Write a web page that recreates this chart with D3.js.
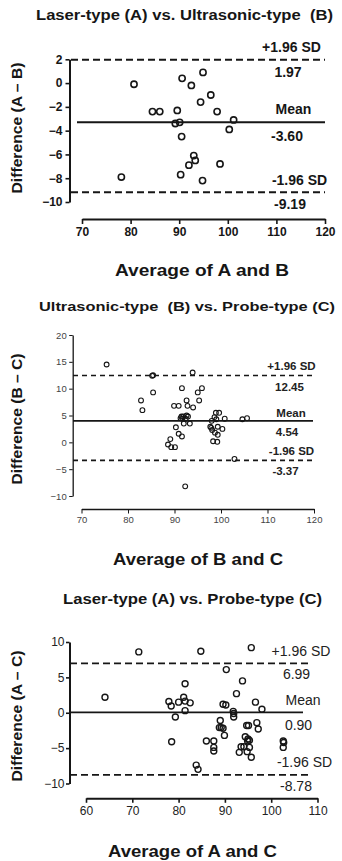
<!DOCTYPE html>
<html>
<head>
<meta charset="utf-8">
<script src="https://cdn.jsdelivr.net/npm/d3@7"></script>
<style>
    body { margin: 0; background: #fff; }
    svg { display: block; font-family: "Liberation Sans", Arial, sans-serif; }
</style>
</head>
<body>
<svg id="chart" width="342" height="861"></svg>
<script>
(function () {
    'use strict';

    // panel 1 -- Laser-type (A) vs. Ultrasonic-type (B)
    var avgAB = [80.7, 78.1, 84.5, 86.0, 89.6, 89.2, 90.1, 90.6, 92.5, 94.9, 96.5,
        94.4, 97.8, 101.2, 100.3, 90.5, 93.0, 93.3, 92.0, 90.3, 94.8, 98.4];
    var diffAB = [-0.1, -7.9, -2.4, -2.4, -2.3, -3.4, -3.3, 0.4, -0.2, 0.9, -1.0,
        -1.6, -2.4, -3.1, -3.9, -4.5, -6.1, -6.5, -6.9, -7.7, -8.2, -6.8];
    var linesAB = [1.97, -3.3, -9.19];          // upper, mean, lower (as drawn)
    var textAB = ['1.97', '-3.60', '-9.19'];
    var xTicksAB = [70, 80, 90, 100, 110, 120];
    var yTicksAB = [-10, -8, -6, -4, -2, 0, 2];

    // panel 2 -- Ultrasonic-type (B) vs. Probe-type (C)
    var avgBC = [75.4, 85.2, 85.4, 85.4, 82.8, 83.1, 93.9, 91.6, 95.9, 95.0, 92.6,
        95.3, 89.9, 90.9, 92.8, 94.0, 91.5, 91.9, 92.9, 91.7, 92.4, 91.3, 92.6,
        92.0, 93.3, 90.3, 90.9, 91.6, 89.1, 88.6, 89.3, 90.1, 92.3, 102.9, 104.6,
        105.6, 98.9, 99.6, 98.6, 99.0, 100.8, 98.0, 97.7, 99.3, 100.3, 98.1, 98.7,
        99.3, 98.3, 99.2, 97.9];
    var diffBC = [14.5, 12.4, 12.5, 9.3, 7.8, 6.0, 13.0, 10.1, 10.1, 9.3, 7.8,
        7.8, 6.8, 6.8, 6.8, 6.5, 4.8, 4.8, 4.8, 4.4, 4.4, 4.5, 5.0,
        3.5, 3.5, 2.8, 1.6, 1.1, 0.6, -0.4, -0.9, -0.9, -8.2, -3.1, 4.3,
        4.5, 5.5, 5.5, 4.7, 4.3, 4.4, 4.0, 2.9, 2.9, 2.5, 2.3, 1.8,
        1.4, 0.2, 0.1, 2.7];
    var linesBC = [12.45, 4.0, -3.37];
    var textBC = ['12.45', '4.54', '-3.37'];
    var xTicksBC = [70, 80, 90, 100, 110, 120];
    var yTicksBC = [-10, -5, 0, 5, 10, 15, 20];

    // panel 3 -- Laser-type (A) vs. Probe-type (C)
    var avgAC = [64.1, 71.4, 84.8, 95.7, 90.3, 93.8, 81.4, 92.5, 77.9, 78.4, 80.0,
        81.1, 81.4, 82.5, 81.4, 79.3, 89.6, 90.2, 91.8, 91.9, 91.9, 89.0, 88.8,
        89.2, 89.6, 89.9, 86.0, 87.6, 87.6, 87.6, 78.5, 83.8, 84.2, 96.6, 98.0,
        96.9, 97.2, 94.7, 95.1, 94.4, 95.0, 95.3, 94.9, 93.5, 94.1, 95.3, 93.1,
        94.8, 95.7, 102.6, 102.7, 102.6];
    var diffAC = [2.2, 8.6, 8.7, 9.2, 6.1, 4.5, 4.1, 2.7, 1.6, 0.95, 1.5,
        2.2, 1.65, 1.4, 0.3, -0.6, 1.2, 1.1, 0.2, -0.1, -0.6, -1.1, -2.1,
        -2.1, -2.2, -3.2, -4.0, -4.0, -4.9, -5.4, -4.1, -7.4, -8.0, 1.5, 0.5,
        -1.4, -2.3, -1.8, -1.8, -3.4, -3.7, -3.9, -4.0, -4.8, -4.8, -4.9, -5.6,
        -5.5, -6.3, -4.0, -4.2, -4.9];
    var linesAC = [6.99, 0.05, -8.78];
    var textAC = ['6.99', '0.90', '-8.78'];
    var xTicksAC = [60, 70, 80, 90, 100, 110];
    var yTicksAC = [-10, -5, 0, 5, 10];

    var ink = '#161616';
    var svg = d3.select('#chart');

    // panel layout and style settings
    var panels = [
        {
            title: 'Laser-type (A) vs. Ultrasonic-type\u00a0\u00a0(B)',
            titleX: 184.5, titleY: 15, titleSize: 14, titleW: 297,
            yLabel: 'Difference (A \u2013 B)', yLabelY: 128,
            xLabel: 'Average of A and B', xLabelX: 202, xLabelY: 270, xLabelW: 174,
            avg: avgAB, diff: diffAB, lines: linesAB, text: textAB,
            xTicks: xTicksAB, yTicks: yTicksAB,
            xDom: [70, 120], xRange: [82, 325], xAxisY: 219,
            yDom: [-10, 2], yRange: [202, 59.3], yAxisX: 69.5,
            lineX: [71, 325], meanX: [77, 325],
            tickFont: 'bold 12px', tickFill: ink, tickSize: 4, yPad: 3, xPad: 3,
            axisW: 2, lineW: 2, dash: '7,4', r: 3.1, dotW: 1.6,
            annFont: 'bold 14px', annFill: ink,
            ann: [
                { t: '+1.96 SD', line: 0, dy: -12.5, x: 291.5 },
                { t: 0, line: 0, dy: 12, x: 288 },
                { t: 'Mean', line: 1, dy: -13, x: 293.5 },
                { t: 1, line: 1, dy: 14, x: 287 },
                { t: '-1.96 SD', line: 2, dy: -12.5, x: 299.5 },
                { t: 2, line: 2, dy: 12, x: 290 },
            ],
        },
        {
            title: 'Ultrasonic-type\u00a0\u00a0(B) vs. Probe-type (C)',
            titleX: 187, titleY: 306.7, titleSize: 13.5, titleW: 296,
            yLabel: 'Difference (B \u2013 C)', yLabelY: 419,
            xLabel: 'Average of B and C', xLabelX: 198, xLabelY: 559, xLabelW: 170,
            avg: avgBC, diff: diffBC, lines: linesBC, text: textBC,
            xTicks: xTicksBC, yTicks: yTicksBC,
            xDom: [70, 120], xRange: [81.5, 314], xAxisY: 509,
            yDom: [-10, 20], yRange: [496, 335], yAxisX: 72.7,
            lineX: [73, 313], meanX: [73, 313],
            tickFont: '9.5px', tickFill: '#444', tickSize: 3.5, yPad: 2.5, xPad: 3,
            axisW: 1.3, lineW: 1.6, dash: '5,4', r: 2.4, dotW: 1.1,
            annFont: 'bold 11.5px', annFill: '#222',
            ann: [
                { t: '+1.96 SD', line: 0, dy: -10, x: 291.5 },
                { t: 0, line: 0, dy: 11, x: 289.5 },
                { t: 'Mean', line: 1, dy: -8, x: 291 },
                { t: 1, line: 1, dy: 11, x: 287 },
                { t: '-1.96 SD', line: 2, dy: -9, x: 291.5 },
                { t: 2, line: 2, dy: 11, x: 285.5 },
            ],
        },
        {
            title: 'Laser-type (A) vs. Probe-type (C)',
            titleX: 192.5, titleY: 599, titleSize: 14, titleW: 259,
            yLabel: 'Difference (A \u2013 C)', yLabelY: 716,
            xLabel: 'Average of A and C', xLabelX: 192.5, xLabelY: 851.7, xLabelW: 169,
            avg: avgAC, diff: diffAC, lines: linesAC, text: textAC,
            xTicks: xTicksAC, yTicks: yTicksAC,
            xDom: [60, 110], xRange: [86, 317.5], xAxisY: 798.3,
            yDom: [-10, 10], yRange: [783.5, 642], yAxisX: 69.5,
            lineX: [70, 312], meanX: [70, 303],
            tickFont: '12px', tickFill: '#222', tickSize: 3.5, yPad: 1.5, xPad: 4,
            axisW: 2, lineW: 1.8, dash: '7,4', r: 3, dotW: 1.4,
            annFont: '14px', annFill: '#222',
            ann: [
                { t: '+1.96 SD', line: 0, dy: -12, x: 301 },
                { t: 0, line: 0, dy: 10.5, x: 296.5 },
                { t: 'Mean', line: 1, dy: -12, x: 303 },
                { t: 1, line: 1, dy: 13, x: 298.5 },
                { t: '-1.96 SD', line: 2, dy: -13, x: 304.5 },
                { t: 2, line: 2, dy: 11.5, x: 296 },
            ],
        },
    ];

    function styleAxis(g, p) {
        g.select('.domain').attr('stroke', ink).attr('stroke-width', p.axisW);
        g.selectAll('.tick line').attr('stroke', ink).attr('stroke-width', p.axisW * 0.8);
        g.selectAll('.tick text')
            .attr('fill', p.tickFill)
            .style('font', p.tickFont + ' "Liberation Sans", Arial, sans-serif');
    }

    function drawPanel(p) {
        var x = d3.scaleLinear().domain(p.xDom).range(p.xRange),
            y = d3.scaleLinear().domain(p.yDom).range(p.yRange),
            g = svg.append('g');

        // title (original text is rendered wider than Arial, so stretch to fit)
        g.append('text')
            .attr('x', p.titleX).attr('y', p.titleY)
            .attr('text-anchor', 'middle').attr('dominant-baseline', 'central')
            .attr('font-weight', 'bold').attr('font-size', p.titleSize)
            .attr('textLength', p.titleW).attr('lengthAdjust', 'spacingAndGlyphs')
            .attr('fill', ink)
            .text(p.title);

        // axes, offset like the original
        var ya = g.append('g')
            .attr('transform', 'translate(' + p.yAxisX + ',0)')
            .call(d3.axisLeft(y).tickValues(p.yTicks).tickFormat(d3.format('d'))
                .tickSizeOuter(0).tickSizeInner(p.tickSize).tickPadding(p.yPad));
        styleAxis(ya, p);

        var xa = g.append('g')
            .attr('transform', 'translate(0,' + p.xAxisY + ')')
            .call(d3.axisBottom(x).tickValues(p.xTicks).tickFormat(d3.format('d'))
                .tickSizeOuter(0).tickSizeInner(p.tickSize + 1).tickPadding(p.xPad));
        styleAxis(xa, p);

        // limits of agreement + mean
        p.lines.forEach(function (v, i) {
            var span = i === 1 ? p.meanX : p.lineX;
            g.append('line')
                .attr('x1', span[0]).attr('x2', span[1])
                .attr('y1', y(v)).attr('y2', y(v))
                .attr('stroke', ink).attr('stroke-width', p.lineW)
                .attr('stroke-dasharray', i === 1 ? null : p.dash);
        });

        // points
        g.append('g').selectAll('circle')
            .data(p.avg.map(function (a, i) { return [a, p.diff[i]]; }))
            .join('circle')
            .attr('cx', function (d) { return x(d[0]); })
            .attr('cy', function (d) { return y(d[1]); })
            .attr('r', p.r)
            .attr('fill', 'none')
            .attr('stroke', ink).attr('stroke-width', p.dotW);

        // annotations
        p.ann.forEach(function (a) {
            g.append('text')
                .attr('x', a.x).attr('y', y(p.lines[a.line]) + a.dy)
                .attr('text-anchor', 'middle').attr('dominant-baseline', 'central')
                .attr('fill', p.annFill)
                .style('font', p.annFont + ' "Liberation Sans", Arial, sans-serif')
                .text(typeof a.t === 'number' ? p.text[a.t] : a.t);
        });

        // axis titles
        g.append('text')
            .attr('transform', 'translate(17,' + p.yLabelY + ') rotate(-90)')
            .attr('text-anchor', 'middle').attr('dominant-baseline', 'central')
            .attr('font-weight', 'bold').attr('font-size', 14).attr('fill', ink)
            .attr('textLength', 131).attr('lengthAdjust', 'spacingAndGlyphs')
            .text(p.yLabel);

        g.append('text')
            .attr('x', p.xLabelX).attr('y', p.xLabelY)
            .attr('text-anchor', 'middle').attr('dominant-baseline', 'central')
            .attr('font-weight', 'bold').attr('font-size', 17).attr('fill', ink)
            .attr('textLength', p.xLabelW).attr('lengthAdjust', 'spacingAndGlyphs')
            .text(p.xLabel);
    }

    panels.forEach(drawPanel);
}());
</script>
</body>
</html>
